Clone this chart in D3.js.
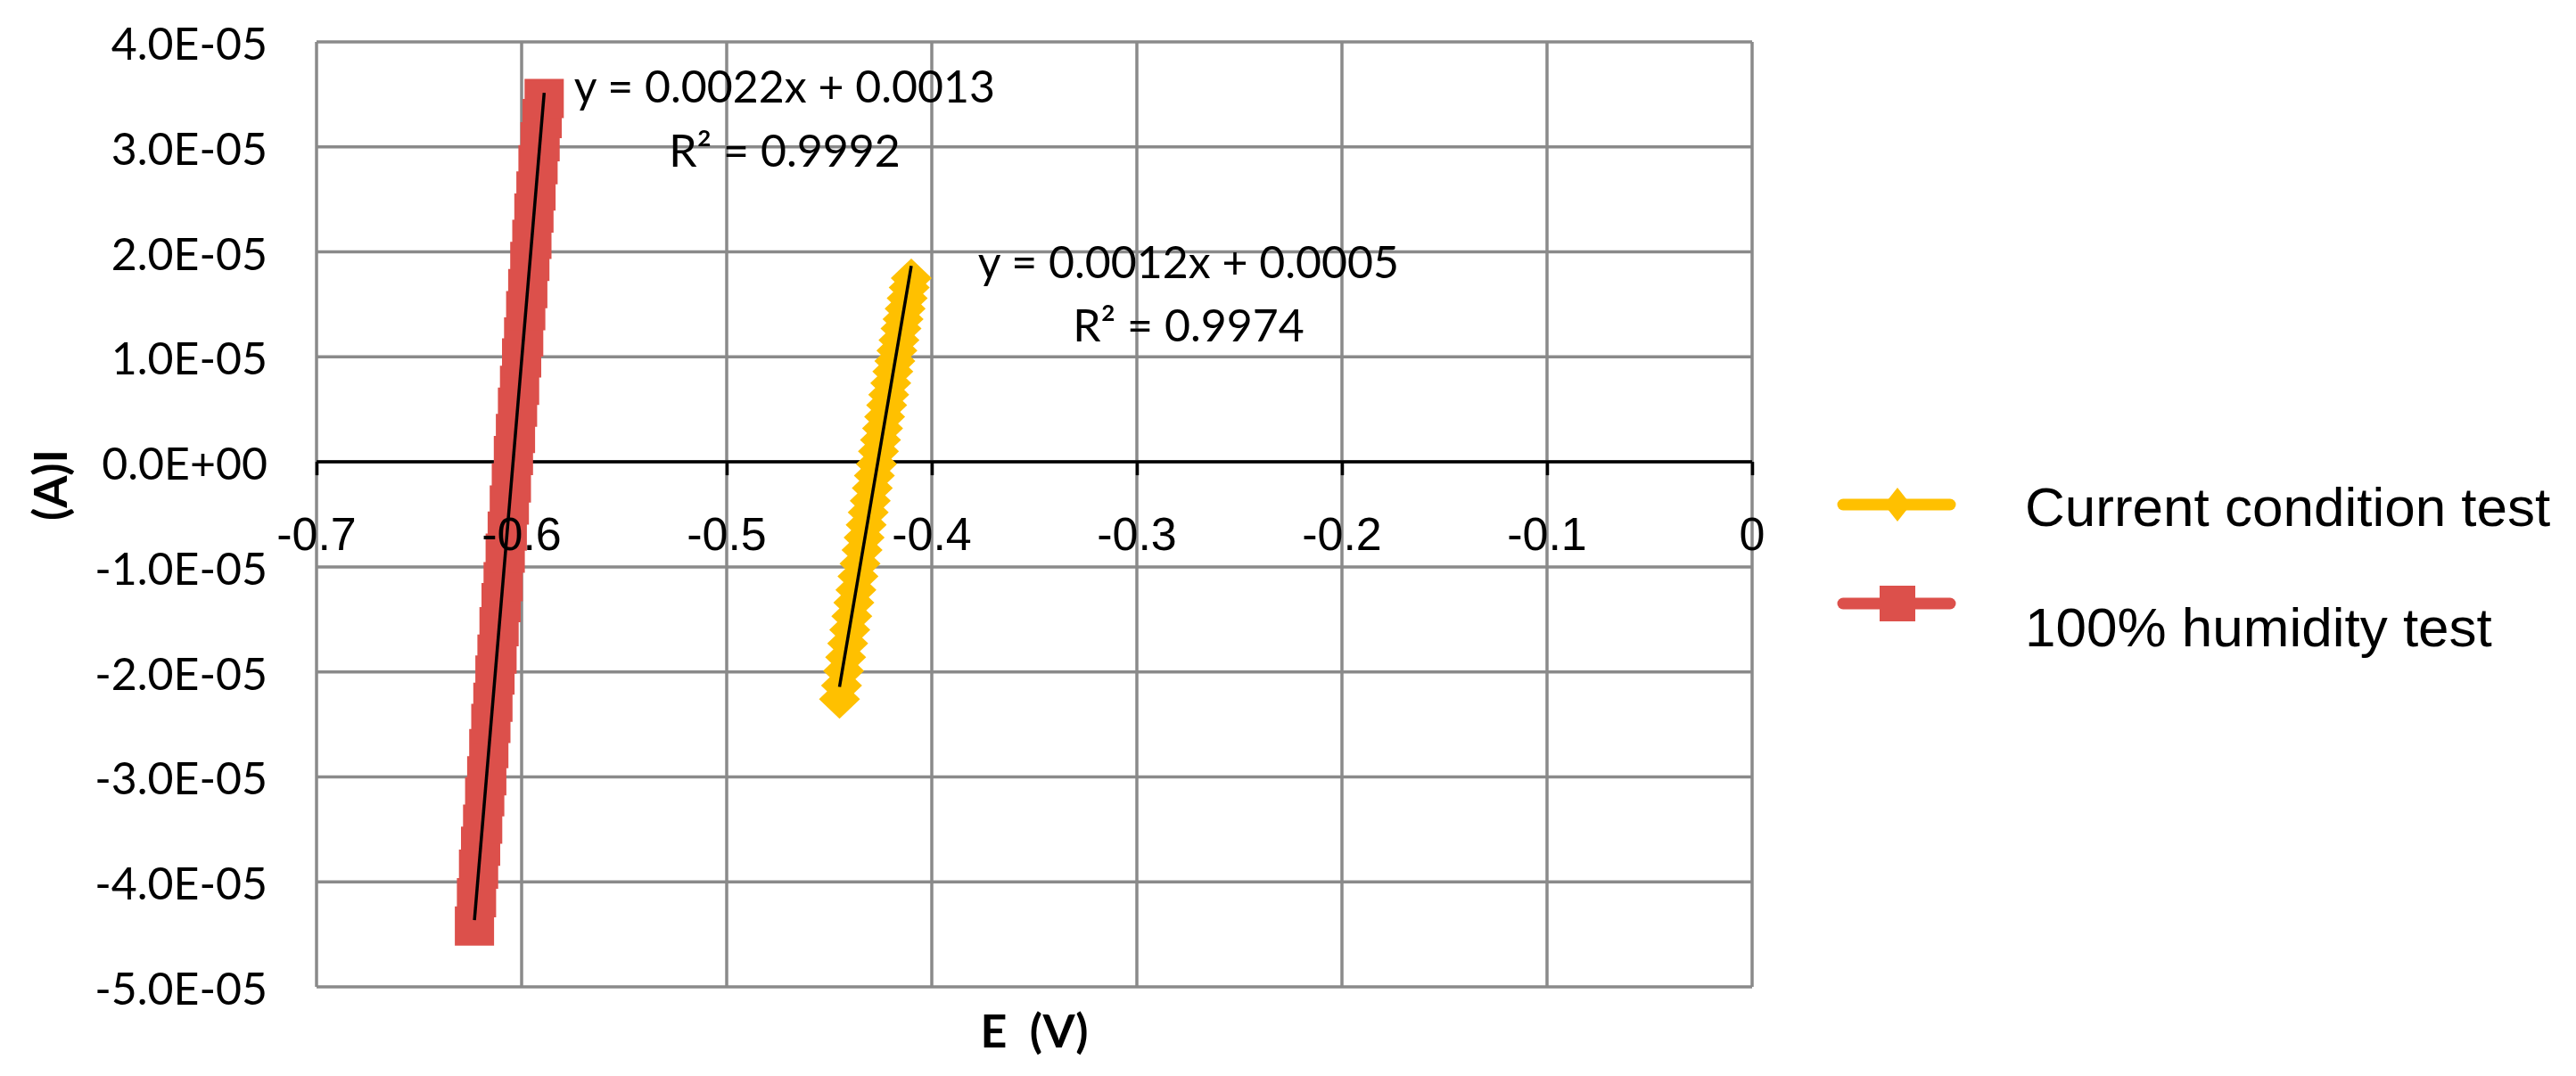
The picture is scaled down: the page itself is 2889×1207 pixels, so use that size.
<!DOCTYPE html>
<html>
<head>
<meta charset="utf-8">
<script src="https://cdn.jsdelivr.net/npm/d3@7"></script>
<style>
  html, body { margin: 0; padding: 0; background: #fff; }
  svg { display: block; }
</style>
</head>
<body>
<div id="chart"></div>
<script>

// axis ticks
var xTicks = [-0.7, -0.6, -0.5, -0.4, -0.3, -0.2, -0.1, 0];
var xTickLabels = ["-0.7", "-0.6", "-0.5", "-0.4", "-0.3", "-0.2", "-0.1", "0"];
var yTicks = [4e-5, 3e-5, 2e-5, 1e-5, 0, -1e-5, -2e-5, -3e-5, -4e-5, -5e-5];
var yTickLabels = ["4.0E-05", "3.0E-05", "2.0E-05", "1.0E-05", "0.0E+00",
                   "-1.0E-05", "-2.0E-05", "-3.0E-05", "-4.0E-05", "-5.0E-05"];

var seriesNames = ["Current condition test", "100% humidity test"];

// Current condition test (E in V, I in A)
var currentE = [-0.445, -0.444, -0.443, -0.442, -0.441, -0.440, -0.439, -0.438, -0.437, -0.436,
                -0.435, -0.434, -0.433, -0.432, -0.431, -0.430, -0.429, -0.428, -0.427, -0.426,
                -0.425, -0.424, -0.423, -0.422, -0.421, -0.420, -0.419, -0.418, -0.417, -0.416,
                -0.415, -0.414, -0.413, -0.412, -0.411, -0.410];
var currentI = [-2.26e-5, -2.13e-5, -1.99e-5, -1.86e-5, -1.73e-5, -1.60e-5, -1.47e-5, -1.34e-5, -1.22e-5, -1.09e-5,
                -0.97e-5, -0.84e-5, -0.72e-5, -0.60e-5, -0.48e-5, -0.37e-5, -0.25e-5, -0.13e-5, -0.02e-5, 0.10e-5,
                0.21e-5, 0.32e-5, 0.43e-5, 0.54e-5, 0.64e-5, 0.75e-5, 0.86e-5, 0.96e-5, 1.06e-5, 1.16e-5,
                1.27e-5, 1.36e-5, 1.46e-5, 1.56e-5, 1.66e-5, 1.75e-5];

// 100% humidity test
var humidE = [-0.623, -0.622, -0.621, -0.620, -0.619, -0.618, -0.617, -0.616, -0.615, -0.614,
              -0.613, -0.612, -0.611, -0.610, -0.609, -0.608, -0.607, -0.606, -0.605, -0.604,
              -0.603, -0.602, -0.601, -0.600, -0.599, -0.598, -0.597, -0.596, -0.595, -0.594,
              -0.593, -0.592, -0.591, -0.590, -0.589];
var humidI = [-4.42e-5, -4.15e-5, -3.88e-5, -3.66e-5, -3.45e-5, -3.19e-5, -2.99e-5, -2.73e-5, -2.49e-5, -2.29e-5,
              -2.03e-5, -1.83e-5, -1.57e-5, -1.34e-5, -1.14e-5, -0.87e-5, -0.66e-5, -0.41e-5, -0.20e-5, 0.06e-5,
              0.27e-5, 0.52e-5, 0.73e-5, 0.99e-5, 1.19e-5, 1.44e-5, 1.65e-5, 1.91e-5, 2.12e-5, 2.37e-5,
              2.58e-5, 2.83e-5, 3.05e-5, 3.27e-5, 3.46e-5];

var currentEq = ["y = 0.0012x + 0.0005", "R\u00B2 = 0.9974"];
var humidEq = ["y = 0.0022x + 0.0013", "R\u00B2 = 0.9992"];

var W = 2889, H = 1207;
var plotLeft = 355, plotRight = 1965, plotTop = 47, plotBottom = 1107;

var svg = d3.select('#chart').append('svg')
            .attr('width', W)
            .attr('height', H);

var x = d3.scaleLinear().domain([-0.7, 0]).range([plotLeft, plotRight]);
var y = d3.scaleLinear().domain([-5e-5, 4e-5]).range([plotBottom, plotTop]);

var gridColor = '#8a8a8a';

// gridlines
svg.append('g').selectAll('line')
   .data(yTicks).enter().append('line')
   .attr('x1', plotLeft).attr('x2', plotRight)
   .attr('y1', function(d) { return y(d); })
   .attr('y2', function(d) { return y(d); })
   .attr('stroke', gridColor).attr('stroke-width', 3.5);

svg.append('g').selectAll('line')
   .data(xTicks).enter().append('line')
   .attr('x1', function(d) { return x(d); })
   .attr('x2', function(d) { return x(d); })
   .attr('y1', plotTop).attr('y2', plotBottom)
   .attr('stroke', gridColor).attr('stroke-width', 3.5);

// horizontal axis through zero
var xAxis = d3.axisBottom(x).tickValues(xTicks).tickSize(15).tickFormat('');
var gx = svg.append('g')
   .attr('transform', 'translate(0,' + y(0) + ')')
   .call(xAxis);
gx.select('.domain').attr('stroke', '#000').attr('stroke-width', 3.5)
  .attr('d', 'M' + plotLeft + ',0H' + plotRight);
gx.selectAll('.tick line').attr('stroke', '#000').attr('stroke-width', 3.5);

// series
var series = [
  { name: seriesNames[0], E: currentE, I: currentI, color: '#FFC000', shape: 'diamond', eq: currentEq },
  { name: seriesNames[1], E: humidE, I: humidI, color: '#DC504B', shape: 'square', eq: humidEq }
];

var line = d3.line()
             .x(function(d) { return x(d[0]); })
             .y(function(d) { return y(d[1]); });

function markerPath(shape, s) {
  if (shape == 'diamond') return 'M0,' + (-s) + 'L' + (s + 1) + ',0L0,' + s + 'L' + (-s - 1) + ',0Z';
  return 'M' + (-s) + ',' + (-s) + 'H' + s + 'V' + s + 'H' + (-s) + 'Z';
}

series.forEach(function(s) {
  var pts = s.E.map(function(e, i) { return [e, s.I[i]]; });
  s.pts = pts;

  svg.append('path')
     .datum(pts)
     .attr('d', line)
     .attr('fill', 'none')
     .attr('stroke', s.color)
     .attr('stroke-width', 13);

  svg.append('g').selectAll('path')
     .data(pts).enter().append('path')
     .attr('d', markerPath(s.shape, 22))
     .attr('transform', function(d) { return 'translate(' + x(d[0]) + ',' + y(d[1]) + ')'; })
     .attr('fill', s.color);
});

// linear trendlines (least squares)
series.forEach(function(s) {
  var mx = d3.mean(s.E), my = d3.mean(s.I);
  var sxy = 0, sxx = 0;
  s.pts.forEach(function(p) { sxy += (p[0] - mx) * (p[1] - my); sxx += (p[0] - mx) * (p[0] - mx); });
  var b = sxy / sxx, a = my - b * mx;
  var ex = d3.extent(s.E);
  svg.append('path')
     .datum([[ex[0], a + b * ex[0]], [ex[1], a + b * ex[1]]])
     .attr('d', line)
     .attr('stroke', '#000')
     .attr('stroke-width', 3.5)
     .attr('fill', 'none');
});

// tick labels
svg.append('g').selectAll('text')
   .data(xTicks).enter().append('text')
   .attr('x', function(d) { return x(d); })
   .attr('y', y(0) + 99)
   .attr('text-anchor', 'middle')
   .style('font-family', '"Liberation Sans", Arial, sans-serif')
   .style('font-size', '52px')
   .text(function(d, i) { return xTickLabels[i]; });

svg.append('g').selectAll('text')
   .data(yTicks).enter().append('text')
   .attr('x', 300)
   .attr('y', function(d) { return y(d) + 20; })
   .attr('text-anchor', 'end')
   .style('font-family', 'Lato, Calibri, sans-serif')
   .style('font-size', '50px')
   .text(function(d, i) { return yTickLabels[i]; });

// trendline equations
var eqPos = [{ cx: 1333, y1: 312, y2: 383 }, { cx: 880, y1: 115, y2: 187 }];
series.forEach(function(s, i) {
  var g = svg.append('g')
             .style('font-family', 'Lato, Calibri, sans-serif')
             .style('font-size', '50px')
             .attr('text-anchor', 'middle');
  g.append('text').attr('x', eqPos[i].cx).attr('y', eqPos[i].y1).text(s.eq[0]);
  g.append('text').attr('x', eqPos[i].cx).attr('y', eqPos[i].y2).text(s.eq[1]);
});

// axis titles
svg.append('text')
   .attr('x', 1160).attr('y', 1175)
   .attr('text-anchor', 'middle')
   .style('font-family', 'Lato, Calibri, sans-serif')
   .style('font-weight', 'bold')
   .style('font-size', '52px')
   .style('white-space', 'pre')
   .text('E  (V)');

svg.append('text')
   .attr('transform', 'translate(75,544) rotate(-90)')
   .attr('text-anchor', 'middle')
   .style('font-family', 'Lato, Calibri, sans-serif')
   .style('font-weight', 'bold')
   .style('font-size', '52px')
   .text('(A)I');

// legend
var legendRows = [{ my: 566, ty: 590 }, { my: 677, ty: 725 }];
series.forEach(function(s, i) {
  var g = svg.append('g');
  g.append('line')
   .attr('x1', 2067).attr('x2', 2187)
   .attr('y1', legendRows[i].my).attr('y2', legendRows[i].my)
   .attr('stroke', s.color).attr('stroke-width', 13)
   .attr('stroke-linecap', 'round');
  var mk = s.shape == 'diamond'
    ? 'M0,-19L15,0L0,19L-15,0Z'
    : markerPath('square', 20);
  g.append('path')
   .attr('d', mk)
   .attr('transform', 'translate(2128,' + legendRows[i].my + ')')
   .attr('fill', s.color);
  g.append('text')
   .attr('x', 2271).attr('y', legendRows[i].ty)
   .style('font-family', '"Liberation Sans", Arial, sans-serif')
   .style('font-size', '62px')
   .text(s.name);
});

</script>
</body>
</html>
